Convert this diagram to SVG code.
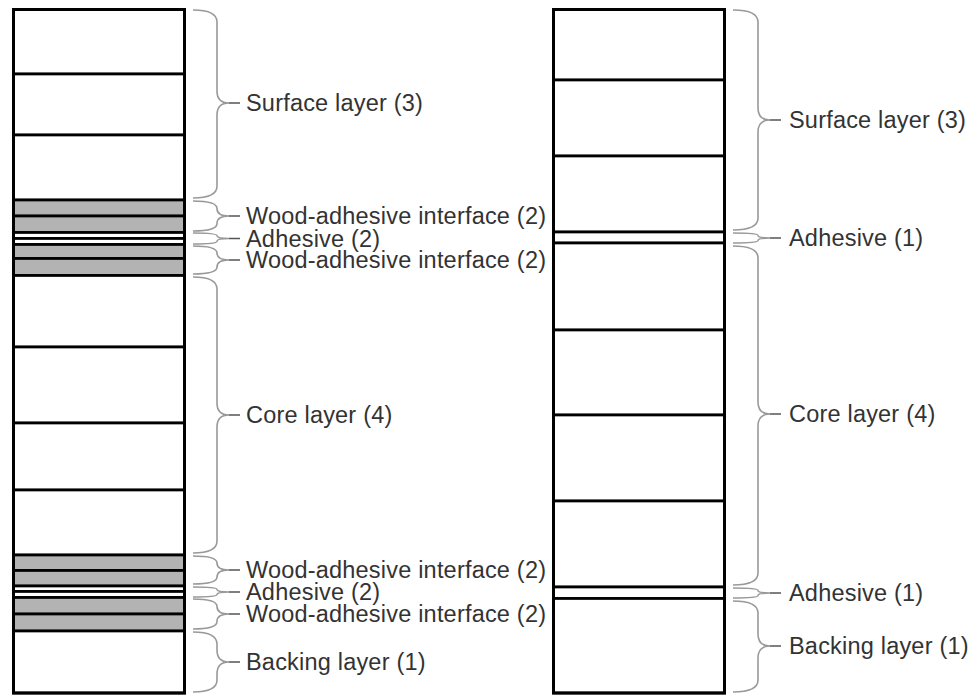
<svg xmlns="http://www.w3.org/2000/svg" width="969" height="695" viewBox="0 0 969 695">
<style>
.w{fill:#fff;stroke:#000;stroke-width:2.7}
.g{fill:#b3b3b3;stroke:#000;stroke-width:2.7}
.frame{fill:none;stroke:#000;stroke-width:3}
.br{fill:none;stroke:#999;stroke-width:1.6}
.tk{fill:none;stroke:#555;stroke-width:1.4}
text{font-family:"Liberation Sans",Arial,sans-serif;font-size:23.5px;letter-spacing:0.2px;fill:#333}
</style>
<rect width="969" height="695" fill="#fff"/>
<g id="left-column">
<rect class="w" x="13.5" y="9.5" width="171" height="64.5"/>
<rect class="w" x="13.5" y="74" width="171" height="61"/>
<rect class="w" x="13.5" y="135" width="171" height="65"/>
<rect class="g" x="13.5" y="200" width="171" height="16"/>
<rect class="g" x="13.5" y="216" width="171" height="16.5"/>
<rect class="w" x="13.5" y="232.5" width="171" height="6"/>
<rect class="w" x="13.5" y="238.5" width="171" height="6"/>
<rect class="g" x="13.5" y="244.5" width="171" height="14"/>
<rect class="g" x="13.5" y="258.5" width="171" height="17"/>
<rect class="w" x="13.5" y="275.5" width="171" height="71.5"/>
<rect class="w" x="13.5" y="347" width="171" height="76"/>
<rect class="w" x="13.5" y="423" width="171" height="67"/>
<rect class="w" x="13.5" y="490" width="171" height="65"/>
<rect class="g" x="13.5" y="555" width="171" height="15.5"/>
<rect class="g" x="13.5" y="570.5" width="171" height="15.5"/>
<rect class="w" x="13.5" y="586" width="171" height="5.5"/>
<rect class="w" x="13.5" y="591.5" width="171" height="6"/>
<rect class="g" x="13.5" y="597.5" width="171" height="16.5"/>
<rect class="g" x="13.5" y="614" width="171" height="17"/>
<rect class="w" x="13.5" y="631" width="171" height="62"/>
<rect class="frame" x="13.5" y="9.5" width="171" height="683.5"/>
</g>
<g id="right-column">
<rect class="w" x="553.5" y="9.5" width="171" height="70.5"/>
<rect class="w" x="553.5" y="80" width="171" height="76"/>
<rect class="w" x="553.5" y="156" width="171" height="76"/>
<rect class="w" x="553.5" y="232" width="171" height="11"/>
<rect class="w" x="553.5" y="243" width="171" height="87"/>
<rect class="w" x="553.5" y="330" width="171" height="85"/>
<rect class="w" x="553.5" y="415" width="171" height="86"/>
<rect class="w" x="553.5" y="501" width="171" height="86"/>
<rect class="w" x="553.5" y="587" width="171" height="11.5"/>
<rect class="w" x="553.5" y="598.5" width="171" height="94.5"/>
<rect class="frame" x="553.5" y="9.5" width="171" height="683.5"/>
</g>
<g id="connectors">
<path class="br" d="M193,10 Q217,10 217,22 L217,91 Q217,103 229,103 Q217,103 217,115 L217,186 Q217,198 193,198"/>
<path class="br" d="M193,201 Q217,201 217,208.5 Q217,216 229,216 Q217,216 217,223.5 Q217,231 193,231"/>
<path class="br" d="M193,233 Q217,233 217,235.75 Q217,238.5 229,238.5 Q217,238.5 217,241.25 Q217,244 193,244"/>
<path class="br" d="M193,246 Q217,246 217,253 Q217,260 229,260 Q217,260 217,267 Q217,274 193,274"/>
<path class="br" d="M193,277 Q217,277 217,289 L217,403 Q217,415 229,415 Q217,415 217,427 L217,541 Q217,553 193,553"/>
<path class="br" d="M193,556 Q217,556 217,563 Q217,570 229,570 Q217,570 217,577 Q217,584 193,584"/>
<path class="br" d="M193,587 Q217,587 217,589.5 Q217,592 229,592 Q217,592 217,594.5 Q217,597 193,597"/>
<path class="br" d="M193,599 Q217,599 217,606.5 Q217,614 229,614 Q217,614 217,621.5 Q217,629 193,629"/>
<path class="br" d="M193,632 Q217,632 217,644 L217,650 Q217,662 229,662 Q217,662 217,674 L217,680 Q217,692 193,692"/>
<path class="tk" d="M229,103H240M229,216H240M229,238.5H240M229,260H240M229,415H240M229,570H240M229,592H240M229,614H240M229,662H240"/>
<path class="br" d="M733,10 Q758,10 758,22 L758,108 Q758,120 770,120 Q758,120 758,132 L758,218 Q758,230 733,230"/>
<path class="br" d="M733,233 Q758,233 758,235.5 Q758,238 770,238 Q758,238 758,240.5 Q758,243 733,243"/>
<path class="br" d="M733,246 Q758,246 758,258 L758,402 Q758,414 770,414 Q758,414 758,426 L758,573 Q758,585 733,585"/>
<path class="br" d="M733,588 Q758,588 758,590.5 Q758,593 770,593 Q758,593 758,595.5 Q758,598 733,598"/>
<path class="br" d="M733,601 Q758,601 758,613 L758,634 Q758,646 770,646 Q758,646 758,658 L758,680 Q758,692 733,692"/>
<path class="tk" d="M770,120H781M770,238H781M770,414H781M770,593H781M770,646H781"/>
</g>
<g id="label-left-surface"><text x="246" y="111">Surface layer (3)</text></g>
<g id="label-left-wai1"><text x="246" y="224">Wood-adhesive interface (2)</text></g>
<g id="label-left-adh1"><text x="246" y="246.5">Adhesive (2)</text></g>
<g id="label-left-wai2"><text x="246" y="268">Wood-adhesive interface (2)</text></g>
<g id="label-left-core"><text x="246" y="423">Core layer (4)</text></g>
<g id="label-left-wai3"><text x="246" y="578">Wood-adhesive interface (2)</text></g>
<g id="label-left-adh2"><text x="246" y="600">Adhesive (2)</text></g>
<g id="label-left-wai4"><text x="246" y="622">Wood-adhesive interface (2)</text></g>
<g id="label-left-backing"><text x="246" y="670">Backing layer (1)</text></g>
<g id="label-right-surface"><text x="789" y="128">Surface layer (3)</text></g>
<g id="label-right-adh1"><text x="789" y="246">Adhesive (1)</text></g>
<g id="label-right-core"><text x="789" y="422">Core layer (4)</text></g>
<g id="label-right-adh2"><text x="789" y="601">Adhesive (1)</text></g>
<g id="label-right-backing"><text x="789" y="654">Backing layer (1)</text></g>
</svg>
